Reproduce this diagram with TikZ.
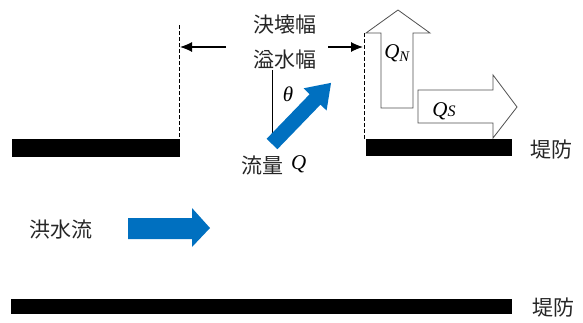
\documentclass[tikz,border=0pt]{standalone}
\usepackage{fontspec}
\setmainfont{Liberation Serif}
\newfontfamily\cjk{Noto Sans CJK JP}
\tikzset{
  levee/.style={fill=black,draw=none},
  bluearrow/.style={fill={rgb,255:red,0;green,112;blue,192},draw=none},
  hollowarrow/.style={draw={rgb,255:red,80;green,80;blue,80},line width=0.8pt,fill=white},
  jp/.style={font=\cjk\fontsize{21}{23}\selectfont,text=black!85,inner sep=0pt},
  it/.style={font=\fontsize{21}{23}\selectfont\itshape,inner sep=0pt},
  dim/.style={-{Latex[length=12pt,width=10pt]},line width=1.1pt},
  dashv/.style={dashed,dash pattern=on 3.5pt off 2.5pt,line width=0.6pt}
}
\usetikzlibrary{arrows.meta}
\begin{document}
\begin{tikzpicture}[x=1pt,y=-1pt]
\useasboundingbox (0,0) rectangle (583,322);
% levees
\fill[levee] (12,139) rectangle (180,157);
\fill[levee] (366,139) rectangle (512,156);
\fill[levee] (11,299) rectangle (512,314);
\node[jp] (t1) at (551,150) {堤防};
\node[jp] (t2) at (553,308) {堤防};
% dashed lines
\coordinate (dlt) at (179,25);
\coordinate (dlb) at (179,139);
\coordinate (drt) at (364,33);
\coordinate (drb) at (364,139);
\draw[dashv] (dlt) -- (dlb);
\draw[dashv] (drt) -- (drb);
% width labels
\node[jp] (w1) at (285,25) {決壊幅};
\node[jp] (w2) at (285,60) {溢水幅};
\coordinate (al) at (180,47);
\coordinate (ar) at (363,47);
\coordinate (alt) at (226,47);
\coordinate (art) at (328,47);
\draw[dim] (alt) -- (al);
\draw[dim] (art) -- (ar);
% vertical reference line and theta
\coordinate (vt) at (272,70);
\coordinate (vb) at (272,144);
\draw[line width=0.7pt] (vt) -- (vb);
\node[it] (th) at (288,94) {θ};
% diagonal blue arrow
\begin{scope}[shift={(272,144)},rotate=46]
\fill[bluearrow] (0,-7.5) -- (62,-7.5) -- (62,-16) -- (85,0) -- (62,16) -- (62,7.5) -- (0,7.5) -- cycle;
\end{scope}
\node[jp,anchor=east] (fl) at (284,165) {流量};
\node[it,anchor=west] (fq) at (291,164) {Q};
% flood flow
\node[jp] (hf) at (61,230) {洪水流};
\fill[bluearrow] (128,218) -- (192,218) -- (192,208) -- (210,228) -- (192,247) -- (192,239) -- (128,239) -- cycle;
% hollow arrows
\draw[hollowarrow] (381,108) -- (381,33) -- (366,33) -- (398,10) -- (430,33) -- (413,33) -- (413,108) -- cycle;
\draw[hollowarrow] (418,90) -- (493,90) -- (493,75) -- (517,107) -- (493,138) -- (493,123) -- (418,123) -- cycle;
\node[it] (qn) at (397,53) {Q\textsubscript{N}};
\node[it] (qs) at (444,111) {Q{\fontsize{16}{18}\selectfont S}};
\end{tikzpicture}
\end{document}
